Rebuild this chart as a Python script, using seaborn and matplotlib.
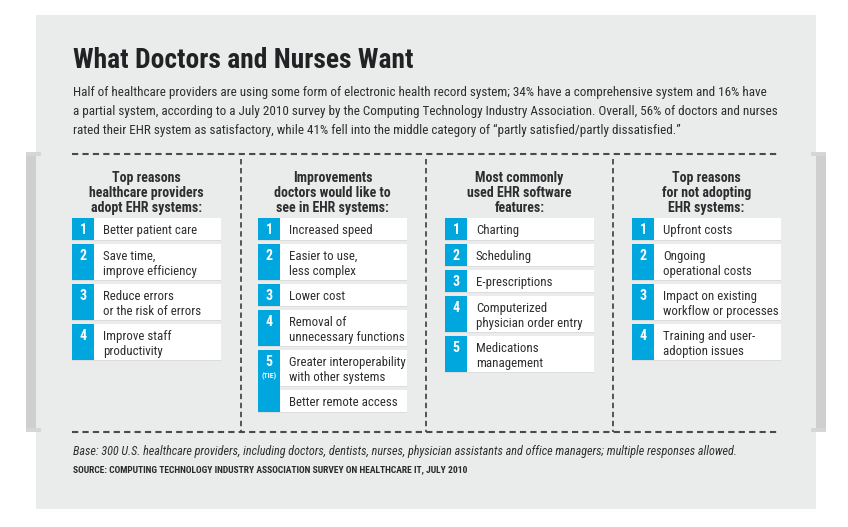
import matplotlib
matplotlib.use("Agg")
import numpy as np
import pandas as pd
import seaborn as sns
import matplotlib.pyplot as plt
from matplotlib.patches import Rectangle
from matplotlib import font_manager as fm

# ---------------- data ----------------
title = "What Doctors and Nurses Want"
intro_lines = [
    "Half of healthcare providers are using some form of electronic health record system; 34% have a comprehensive system and 16% have",
    "a partial system, according to a July 2010 survey by the Computing Technology Industry Association. Overall, 56% of doctors and nurses",
    "rated their EHR system as satisfactory, while 41% fell into the middle category of \u201cpartly satisfied/partly dissatisfied.\u201d",
]
headers = [
    ["Top reasons", "healthcare providers", "adopt EHR systems:"],
    ["Improvements", "doctors would like to", "see in EHR systems:"],
    ["Most commonly", "used EHR software", "features:"],
    ["Top reasons", "for not adopting", "EHR systems:"],
]
adopt_items = ["Better patient care", "Save time,\nimprove efficiency",
               "Reduce errors\nor the risk of errors", "Improve staff\nproductivity"]
adopt_ranks = ["1", "2", "3", "4"]
improve_items = ["Increased speed", "Easier to use,\nless complex", "Lower cost",
                 "Removal of\nunnecessary functions",
                 "Greater interoperability\nwith other systems", "Better remote access"]
improve_ranks = ["1", "2", "3", "4", "5", "5"]
feature_items = ["Charting", "Scheduling", "E-prescriptions",
                 "Computerized\nphysician order entry", "Medications\nmanagement"]
feature_ranks = ["1", "2", "3", "4", "5"]
barrier_items = ["Upfront costs", "Ongoing\noperational costs",
                 "Impact on existing\nworkflow or processes", "Training and user-\nadoption issues"]
barrier_ranks = ["1", "2", "3", "4"]
tie_label = "(TIE)"
footnote = ("Base: 300 U.S. healthcare providers, including doctors, dentists, nurses, "
            "physician assistants and office managers; multiple responses allowed.")
source = "SOURCE: COMPUTING TECHNOLOGY INDUSTRY ASSOCIATION SURVEY ON HEALTHCARE IT, JULY 2010"

columns = [(adopt_items, adopt_ranks), (improve_items, improve_ranks),
           (feature_items, feature_ranks), (barrier_items, barrier_ranks)]

# ---------------- style ----------------
sns.set_theme(style="white")
names = {f.name for f in fm.fontManager.ttflist}
narrow = next((n for n in ["Liberation Sans Narrow", "Roboto Condensed",
                           "DejaVu Sans Condensed", "Open Sans Condensed"] if n in names), None)
FAM = [narrow, "DejaVu Sans"] if narrow else ["DejaVu Sans"]
STRETCH = "normal" if narrow else "condensed"
plt.rcParams["font.family"] = FAM

BG = "#eaebeb"
BLUE = "#00a6de"
TXT = "#2e2e30"
DASH = "#4a4a4c"

fig = plt.figure(figsize=(8.48, 5.27), dpi=100)
fig.patch.set_facecolor("white")
ax = fig.add_axes([0, 0, 1, 1])
ax.set_xlim(0, 848)
ax.set_ylim(527, 0)
ax.axis("off")
renderer = fig.canvas.get_renderer()


def txt(x, y, s, size, **kw):
    kw.setdefault("color", TXT)
    kw.setdefault("va", "baseline")
    kw.setdefault("fontstretch", STRETCH)
    return ax.text(x, y, s, fontsize=size, **kw)


def fit(t, target):
    w = t.get_window_extent(renderer).width
    t.set_fontsize(t.get_fontsize() * target / w)
    return t.get_fontsize()


def measure_size(s, size, target, **kw):
    t = txt(0, 0, s, size, **kw)
    w = t.get_window_extent(renderer).width
    t.remove()
    return size * target / w


# panel and brackets
ax.add_patch(Rectangle((36, 15), 780, 494, color=BG, lw=0, zorder=0))
for x0, lip0 in [(26, 26), (816, 811)]:
    ax.add_patch(Rectangle((x0, 152), 10, 280, color="#cfcfcf", lw=0, zorder=1))
    ax.add_patch(Rectangle((lip0, 152), 15, 4, color="#d6d6d6", lw=0, zorder=1))
    ax.add_patch(Rectangle((lip0, 428), 15, 4, color="#d6d6d6", lw=0, zorder=1))

# title & intro
t = txt(73, 68, title, 16, fontweight="bold", color="#222224")
fit(t, 340)
size_intro = measure_size(intro_lines[0], 10.5, 697)
for i, line in enumerate(intro_lines):
    txt(73, 96 + 19 * i, line, size_intro)

# dashed frame
box_lefts = [72, 258, 445, 632]
dividers = [241, 426, 613]
ax.plot([72, 780], [154, 154], color=DASH, lw=1.5, ls=(0, (3, 2)), zorder=2)
ax.plot([72, 780], [432, 432], color=DASH, lw=1.5, ls=(0, (3, 2)), zorder=2)
for d in dividers:
    ax.plot([d, d], [159, 432], color=DASH, lw=1.3, ls=(0, (3, 2)), zorder=2)

# sizes
size_item = measure_size("Better patient care", 10, 93)
size_head = measure_size("healthcare providers", 9.5, 115, fontweight="bold")

NUM_W, ITEM_W = 22, 127
SINGLE, DOUBLE, GAP = 22, 36, 4
LINE = 15

for (items, ranks), head, left in zip(columns, headers, box_lefts):
    cx = left + (NUM_W + ITEM_W) / 2
    for k, hl in enumerate(head):
        txt(cx, 182 + 15 * k, hl, size_head, fontweight="bold", ha="center")
    y = 218
    tops = []
    for item in items:
        lines = item.split("\n")
        h = SINGLE if len(lines) == 1 else DOUBLE
        ax.add_patch(Rectangle((left + NUM_W, y), ITEM_W, h, color="white", lw=0, zorder=2))
        ax.add_patch(Rectangle((left, y + h), NUM_W + ITEM_W, 1, color="#dcdcdc", lw=0, zorder=2))
        for k, ln in enumerate(lines):
            txt(left + NUM_W + 9, y + 16 + LINE * k, ln, size_item, zorder=3)
        tops.append((y, h))
        y += h + GAP
    # blue rank boxes (merged for ties)
    i = 0
    while i < len(ranks):
        j = i
        while j + 1 < len(ranks) and ranks[j + 1] == ranks[i]:
            j += 1
        y0 = tops[i][0]
        y1 = tops[j][0] + tops[j][1]
        ax.add_patch(Rectangle((left, y0), NUM_W, y1 - y0, color=BLUE, lw=0, zorder=2))
        txt(left + NUM_W / 2, y0 + 16, ranks[i], size_item * 1.08, fontweight="bold",
            color="white", ha="center", zorder=3)
        if j > i:
            txt(left + NUM_W / 2, y0 + 28, tie_label, size_item * 0.6, fontweight="bold",
                color="white", ha="center", zorder=3)
        i = j + 1

# footnotes
t = txt(73, 455, footnote, 10, style="italic")
fit(t, 659)
t = txt(73, 472, source, 6.5, fontweight="bold", color="#2a2a2c")
fit(t, 394)

fig.savefig("out.png", dpi=100, facecolor="white")
